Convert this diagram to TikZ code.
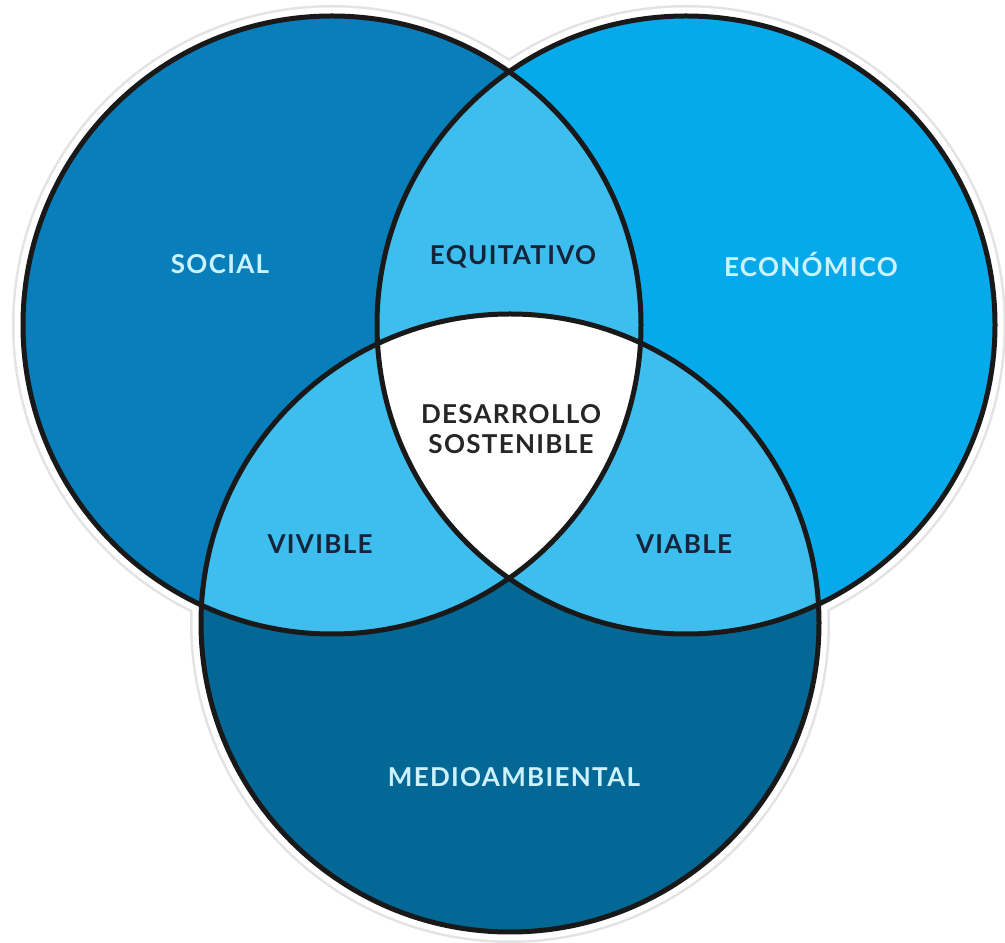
\documentclass[tikz,border=0pt]{standalone}
\usepackage{fontspec}
\setmainfont{Lato}
\newfontfamily\latolabel[LetterSpace=5]{Lato}
\definecolor{socialblue}{RGB}{8,126,186}
\definecolor{econblue}{RGB}{6,170,234}
\definecolor{lensblue}{RGB}{62,190,238}
\definecolor{envblue}{RGB}{4,104,150}
\definecolor{lighttext}{RGB}{205,242,255}
\definecolor{darktext}{RGB}{22,36,58}

\begin{document}
\begin{tikzpicture}[line cap=round,line join=round,x=1pt,y=1pt,
  halo/.style={draw=gray!22,line width=22pt},
  halotop/.style={draw=white,line width=17pt},
  ring/.style={draw=black!90,line width=5pt},
  outerlbl/.style={font=\latolabel\bfseries\fontsize{26}{30}\selectfont,text=lighttext},
  innerlbl/.style={font=\latolabel\bfseries\fontsize{26}{30}\selectfont,text=darktext},
  centerlbl/.style={font=\latolabel\bfseries\fontsize{26}{30}\selectfont,text=black!85,align=center}]
\fill[white] (0,0) rectangle (1005,943);
\useasboundingbox (0,0) rectangle (1005,943);
\coordinate (cs) at (332,618);
\coordinate (ce) at (686,618);
\coordinate (cm) at (510,320);
\def\rad{309}
\draw[halo] (cs) circle (\rad);
\draw[halo] (ce) circle (\rad);
\draw[halo] (cm) circle (\rad);
\draw[halotop] (cs) circle (\rad);
\draw[halotop] (ce) circle (\rad);
\draw[halotop] (cm) circle (\rad);
\fill[socialblue] (cs) circle (\rad);
\fill[econblue] (ce) circle (\rad);
\fill[envblue] (cm) circle (\rad);
\begin{scope}
  \clip (cs) circle (\rad);
  \fill[lensblue] (ce) circle (\rad);
  \fill[lensblue] (cm) circle (\rad);
\end{scope}
\begin{scope}
  \clip (ce) circle (\rad);
  \fill[lensblue] (cm) circle (\rad);
\end{scope}
\begin{scope}
  \clip (cs) circle (\rad);
  \clip (ce) circle (\rad);
  \fill[white] (cm) circle (\rad);
\end{scope}
\draw[ring] (cs) circle (\rad);
\draw[ring] (ce) circle (\rad);
\draw[ring] (cm) circle (\rad);
\node[outerlbl] (social) at (220,679) {SOCIAL};
\node[outerlbl] (economico) at (811,678) {ECONÓMICO};
\node[outerlbl] (medio) at (514,166) {MEDIOAMBIENTAL};
\node[innerlbl] (equitativo) at (513,686) {EQUITATIVO};
\node[innerlbl] (vivible) at (320,399) {VIVIBLE};
\node[innerlbl] (viable) at (684,399) {VIABLE};
\node[centerlbl] (desarrollo) at (511,514) {DESARROLLO\\SOSTENIBLE};
\end{tikzpicture}
\end{document}
